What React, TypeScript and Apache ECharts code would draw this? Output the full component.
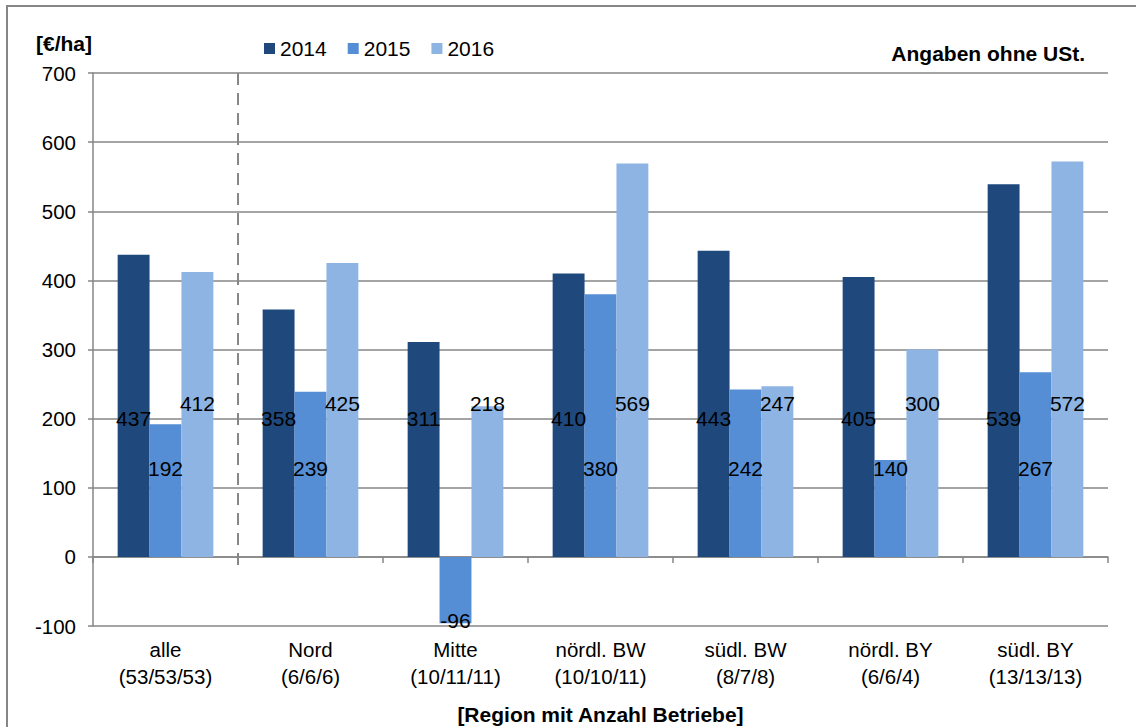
import React, { useEffect, useRef } from "react";
import * as echarts from "echarts";

const categories = [
  "alle\n(53/53/53)",
  "Nord\n(6/6/6)",
  "Mitte\n(10/11/11)",
  "nördl. BW\n(10/10/11)",
  "südl. BW\n(8/7/8)",
  "nördl. BY\n(6/6/4)",
  "südl. BY\n(13/13/13)",
];
const seriesNames = ["2014", "2015", "2016"];
const values2014 = [437, 358, 311, 410, 443, 405, 539];
const values2015 = [192, 239, -96, 380, 242, 140, 267];
const values2016 = [412, 425, 218, 569, 247, 300, 572];
const yTicks = { min: -100, max: 700, interval: 100 };
const separatorAt = 1; // boundary between "alle" and "Nord"

const FONT = "'Liberation Sans', Arial, sans-serif";
const GRAY = "#868686";
const colors = ["#1f497d", "#558ed5", "#8eb4e3"];
const labelOffsets = [-128, -78, -143];

export default function App() {
  const ref = useRef<HTMLDivElement>(null);
  useEffect(() => {
    if (!ref.current) return;
    const chart = echarts.init(ref.current, undefined, { renderer: "svg" });
    const all = [values2014, values2015, values2016];
    const barSeries = all.map((vals, si) => ({
      name: seriesNames[si],
      type: "bar",
      xAxisIndex: 0,
      yAxisIndex: 0,
      barGap: "0%",
      barCategoryGap: "34%",
      itemStyle: { color: colors[si] },
      label: {
        show: true,
        position: "insideBottom",
        distance: 0,
        offset: [0, labelOffsets[si]],
        color: "#000",
        fontSize: 21,
        fontFamily: FONT,
      },
      data: vals.map((v) =>
        v < 0 ? { value: v, label: { offset: [0, 8] } } : v
      ),
    }));
    chart.setOption({
      animation: false,
      textStyle: { fontFamily: FONT },
      grid: { left: 93, right: 28, top: 73, bottom: 101, outerBoundsMode: "none", containLabel: false },
      legend: {
        data: seriesNames,
        left: 259,
        top: 33,
        itemWidth: 11,
        itemHeight: 11,
        itemGap: 21,
        icon: "rect",
        textStyle: { fontSize: 21, color: "#000", fontFamily: FONT },
      },
      xAxis: [
        {
          type: "category",
          data: categories,
          position: "bottom",
          axisLine: { onZero: true, lineStyle: { color: GRAY, width: 1.5 } },
          axisTick: { show: true, length: 6, lineStyle: { color: GRAY, width: 1.5 } },
          axisLabel: { show: false },
          splitLine: { show: false },
        },
        {
          type: "category",
          data: categories,
          position: "bottom",
          axisLine: { show: false, onZero: false },
          axisTick: { show: false },
          axisLabel: {
            show: true,
            color: "#000",
            fontSize: 20.5,
            lineHeight: 27,
            margin: 10,
            fontFamily: FONT,
          },
          name: "[Region mit Anzahl Betriebe]",
          nameLocation: "middle",
          nameGap: 78,
          nameTextStyle: { fontSize: 21, fontWeight: "bold", color: "#000", fontFamily: FONT },
        },
        {
          type: "value",
          min: 0,
          max: categories.length,
          show: false,
        },
      ],
      yAxis: {
        type: "value",
        min: yTicks.min,
        max: yTicks.max,
        interval: yTicks.interval,
        axisLine: { show: true, lineStyle: { color: GRAY, width: 1.5 } },
        axisTick: { show: true, length: 5, lineStyle: { color: GRAY, width: 1.5 } },
        axisLabel: { color: "#000", fontSize: 20.5, margin: 17, fontFamily: FONT },
        splitLine: { show: true, lineStyle: { color: GRAY, width: 1.5 } },
      },
      graphic: [
        {
          type: "rect",
          shape: { x: 7, y: 6, width: 1300, height: 900 },
          style: { fill: "none", stroke: GRAY, lineWidth: 2 },
          silent: true,
        },
        {
          type: "text",
          left: 36,
          top: 33,
          style: { text: "[€/ha]", fontSize: 21, fontWeight: "bold", fill: "#000", fontFamily: FONT },
        },
        {
          type: "text",
          right: 51,
          top: 43,
          style: { text: "Angaben ohne USt.", fontSize: 21, fontWeight: "bold", fill: "#000", fontFamily: FONT },
        },
      ],
      series: [
        ...barSeries,
        {
          type: "line",
          xAxisIndex: 2,
          yAxisIndex: 0,
          data: [],
          silent: true,
          markLine: {
            symbol: "none",
            silent: true,
            label: { show: false },
            lineStyle: { color: GRAY, width: 2, type: [12, 8] },
            data: [[{ coord: [separatorAt, yTicks.max] }, { coord: [separatorAt, -12] }]],
          },
        },
      ],
    });
    return () => chart.dispose();
  }, []);
  return (
    <div
      ref={ref}
      style={{ position: "absolute", left: 0, top: 0, width: 1136, height: 727, background: "#fff" }}
    />
  );
}
